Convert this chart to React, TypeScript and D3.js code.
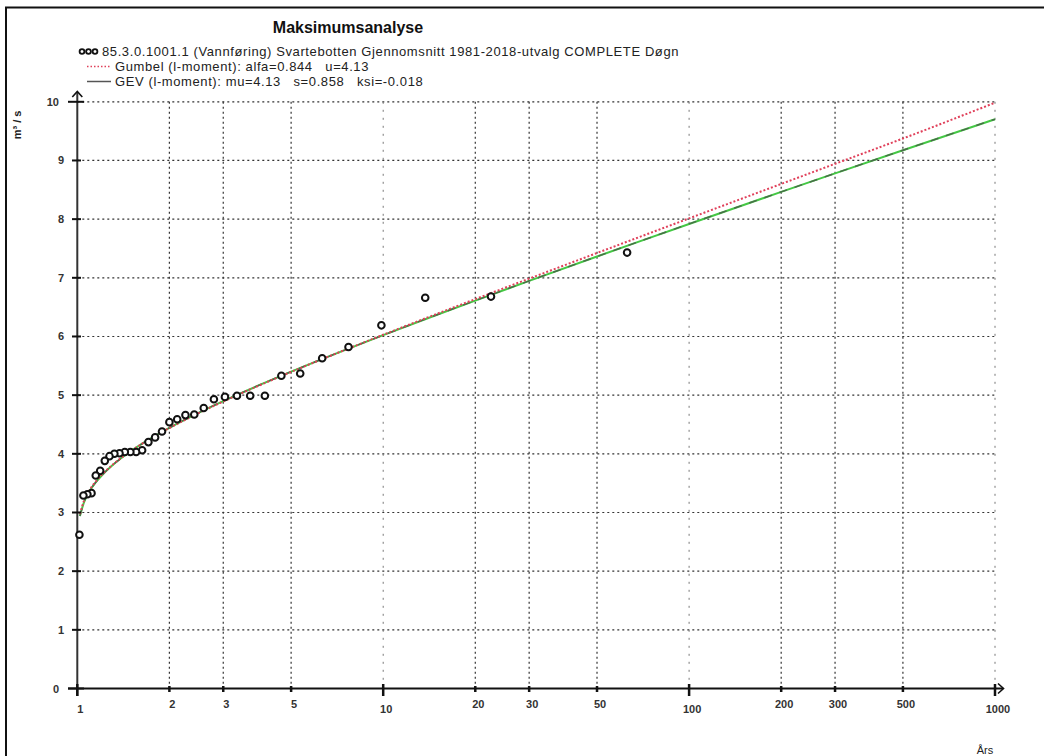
import React from "react";
import * as d3 from "d3";

// ---- data ----
const title = "Maksimumsanalyse";
const seriesLabel = "85.3.0.1001.1 (Vannføring) Svartebotten Gjennomsnitt 1981-2018-utvalg COMPLETE Døgn";
const gumbelLabel = "Gumbel (l-moment): alfa=0.844   u=4.13";
const gevLabel = "GEV (l-moment): mu=4.13   s=0.858   ksi=-0.018";
const yUnit = "m³ / s";
const xUnit = "Års";

const xTicks = [1, 2, 3, 5, 10, 20, 30, 50, 100, 200, 300, 500, 1000];
const xMajor = [1, 10, 100, 1000];
const yTicks = [0, 1, 2, 3, 4, 5, 6, 7, 8, 9, 10];

// observed annual maxima: return period (years) and discharge (m3/s)
const obsPeriods = [
  62.71, 22.51, 13.72, 9.865, 7.702, 6.317, 5.354, 4.646, 4.103, 3.674,
  3.326, 3.038, 2.796, 2.59, 2.412, 2.257, 2.121, 2.0, 1.892, 1.796,
  1.708, 1.629, 1.557, 1.491, 1.43, 1.374, 1.322, 1.274, 1.23, 1.188,
  1.149, 1.113, 1.079, 1.047, 1.016,
];
const obsValues = [
  7.43, 6.68, 6.66, 6.19, 5.82, 5.63, 5.37, 5.33, 4.99, 4.99,
  4.99, 4.97, 4.93, 4.78, 4.67, 4.66, 4.59, 4.54, 4.38, 4.28,
  4.2, 4.06, 4.03, 4.03, 4.03, 4.01, 4.0, 3.96, 3.88, 3.71,
  3.63, 3.33, 3.31, 3.29, 2.62,
];

// fitted curves
const curvePeriods = [1.02, 1.05, 1.1, 1.15, 1.2, 1.3, 1.4, 1.5, 1.7, 2, 2.5, 3, 4, 5, 7, 10, 15, 20, 30, 50, 70, 100, 200, 300, 500, 1000];
const gumbelValues = [2.975, 3.19, 3.392, 3.53, 3.638, 3.807, 3.94, 4.051, 4.231, 4.439, 4.697, 4.892, 5.182, 5.396, 5.708, 6.029, 6.387, 6.637, 6.986, 7.423, 7.71, 8.013, 8.6, 8.943, 9.374, 9.985];
const gevValues = [2.941, 3.165, 3.374, 3.516, 3.627, 3.8, 3.936, 4.049, 4.232, 4.443, 4.703, 4.898, 5.187, 5.4, 5.708, 6.022, 6.37, 6.612, 6.947, 7.363, 7.634, 7.918, 8.464, 8.78, 9.174, 9.703];

const W = 1044;
const H = 756;
const FONT = "'Liberation Sans', Arial, sans-serif";

export default function App() {
  const x = d3.scaleLog().domain([1, 1000]).range([77.3, 995]);
  const y = d3.scaleLinear().domain([0, 10]).range([688.5, 101.8]);

  const line = d3
    .line<number>()
    .x((_, i) => x(curvePeriods[i]))
    .y((v) => y(v))
    .curve(d3.curveMonotoneX);

  const gumbelPath = line(gumbelValues) || "";
  const gevPath = line(gevValues) || "";

  const x0 = x(1);
  const y0 = y(0);
  const yTop = y(10);
  const xEnd = x(1000);

  const legendText = { fontSize: 13, fill: "#222", letterSpacing: 0.6, style: { whiteSpace: "pre" as const } };

  return (
    <svg
      width={W}
      height={H}
      style={{ position: "absolute", left: 0, top: 0, background: "#fff" }}
      fontFamily={FONT}
    >
      <rect x={0} y={0} width={W} height={H} fill="#fff" />
      {/* frame */}
      <path d={`M6,${H} V7.5 H${W}`} fill="none" stroke="#111" strokeWidth={2} />

      {/* title */}
      <text x={348} y={33} textAnchor="middle" fontSize={16} fontWeight="bold" fill="#111">
        {title}
      </text>

      {/* legend */}
      {[82, 88.5, 95].map((cx) => (
        <circle key={cx} cx={cx} cy={51.5} r={2.4} fill="#fff" stroke="#111" strokeWidth={1.8} />
      ))}
      <text x={102} y={56} {...legendText}>{seriesLabel}</text>
      <line x1={87} x2={111} y1={66.5} y2={66.5} stroke="#e0405a" strokeWidth={1.5} strokeDasharray="1.5,2" />
      <text x={115} y={71} {...legendText}>{gumbelLabel}</text>
      <line x1={87} x2={111} y1={81.5} y2={81.5} stroke="#555" strokeWidth={1.5} />
      <text x={115} y={86} {...legendText}>{gevLabel}</text>

      {/* gridlines */}
      {yTicks.filter((t) => t > 0).map((t) => (
        <line key={"gy" + t} x1={x0} x2={xEnd} y1={y(t)} y2={y(t)} stroke="#333" strokeWidth={1.2} strokeDasharray="2,3" />
      ))}
      {xTicks.filter((t) => t > 1).map((t) => {
        const major = xMajor.includes(t);
        return (
          <line
            key={"gx" + t}
            x1={x(t)}
            x2={x(t)}
            y1={yTop}
            y2={y0}
            stroke={major ? "#777" : "#333"}
            strokeWidth={major ? 1 : 1.2}
            strokeDasharray={major ? "2,6" : "2,3"}
          />
        );
      })}

      {/* fitted curves */}
      <path d={gevPath} fill="none" stroke="#44c844" strokeWidth={2} />
      <path d={gevPath} fill="none" stroke="#4a6a4a" strokeWidth={1.4} strokeDasharray="8,8" />
      <path d={gumbelPath} fill="none" stroke="#e0405a" strokeWidth={2} strokeDasharray="2,2" />

      {/* axes */}
      <line x1={68} x2={1003} y1={y0} y2={y0} stroke="#111" strokeWidth={2} />
      <path d={`M998,${y0 - 5} L1003.5,${y0} L998,${y0 + 5}`} fill="none" stroke="#111" strokeWidth={1.6} />
      <line x1={x0} x2={x0} y1={696} y2={92} stroke="#333" strokeWidth={2} />
      <path d={`M${x0 - 5},97 L${x0},91.5 L${x0 + 5},97`} fill="none" stroke="#111" strokeWidth={1.6} />

      {/* x ticks + labels */}
      {xTicks.map((t) => {
        const major = xMajor.includes(t);
        return (
          <g key={"xt" + t}>
            <line x1={x(t)} x2={x(t)} y1={major ? 684 : 686} y2={major ? 696 : 692} stroke="#111" strokeWidth={2.5} />
            <text x={x(t) + 3} y={major ? 713 : 708} textAnchor="middle" fontSize={11} fontWeight="bold" fill="#333">
              {t}
            </text>
          </g>
        );
      })}

      {/* y ticks + labels */}
      {yTicks.map((t) => {
        const major = t === 0 || t === 10;
        return (
          <g key={"yt" + t}>
            <line x1={major ? 68 : 72} x2={major ? 84 : 81} y1={y(t)} y2={y(t)} stroke="#111" strokeWidth={2} />
            <text x={major ? 59 : 64} y={y(t) + 4} textAnchor="end" fontSize={11} fontWeight="bold" fill="#333">
              {t}
            </text>
          </g>
        );
      })}

      {/* axis units */}
      <text transform="translate(21,125) rotate(-90)" textAnchor="middle" fontSize={11} fontWeight="bold" fill="#222">
        {yUnit}
      </text>
      <text x={985} y={754} textAnchor="middle" fontSize={11} fill="#222">{xUnit}</text>

      {/* observations */}
      {obsPeriods.map((p, i) => (
        <circle key={"o" + i} cx={x(p)} cy={y(obsValues[i])} r={3.3} fill="#fff" stroke="#111" strokeWidth={2} />
      ))}
    </svg>
  );
}
